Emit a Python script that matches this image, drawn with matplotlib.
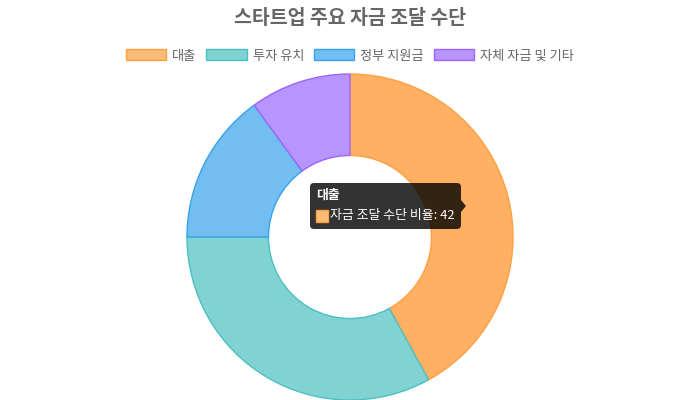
import matplotlib.pyplot as plt
from matplotlib.patches import Patch, FancyBboxPatch, Rectangle, Polygon

plt.rcParams['font.family'] = ['Noto Sans CJK KR', 'DejaVu Sans']

# data
labels = ["대출", "투자 유치", "정부 지원금", "자체 자금 및 기타"]
values = [42, 33, 15, 10]
series_name = "자금 조달 수단 비율"
title = "스타트업 주요 자금 조달 수단"

fills = ["#ffb062", "#81d3d3", "#72bef1", "#b894ff"]
legend_fills = ["#ffbc79", "#81d3d3", "#72bef1", "#b894ff"]
edges = ["#ff9f40", "#4bc0c0", "#36a2eb", "#9966ff"]

fig = plt.figure(figsize=(7, 4), dpi=100)
ax = fig.add_axes([0, 0, 1, 1])

# doughnut, pixel coords (y up)
cx, cy = 350, 400 - 237
R = 163
wedges, _ = ax.pie(values, colors=fills, startangle=90, counterclock=False,
                   radius=R, center=(cx, cy),
                   wedgeprops=dict(width=R * 0.5, linewidth=1))
for w, ec in zip(wedges, edges):
    w.set_edgecolor(ec)

ax.set_xlim(0, 700)
ax.set_ylim(0, 400)
ax.set_aspect('equal')
ax.axis('off')

# title
ax.text(350, 400 - 18, title, ha='center', va='center', fontsize=14,
        fontweight='bold', color='#666666')

# legend
handles = [Patch(facecolor=f, edgecolor=e, linewidth=1)
           for f, e in zip(legend_fills, edges)]
leg = ax.legend(handles, labels, loc='center', bbox_to_anchor=(350, 400 - 56),
                bbox_transform=ax.transData, ncol=4, frameon=False,
                fontsize=9.5, handlelength=3.05, handleheight=0.9,
                handletextpad=0.45, columnspacing=0.75, borderpad=0)
for t in leg.get_texts():
    t.set_color('#666666')

# tooltip for the hovered slice
tx0, ty0, tx1, ty1 = 310, 400 - 229, 461, 400 - 183
ax.add_patch(FancyBboxPatch((tx0 + 4, ty0 + 4), tx1 - tx0 - 8, ty1 - ty0 - 8,
                            boxstyle="round,pad=4", facecolor=(0, 0, 0, 0.8),
                            edgecolor='none', zorder=5))
ax.add_patch(Polygon([(tx1, 400 - 200), (tx1 + 5, 400 - 206), (tx1, 400 - 212)],
                     closed=True, facecolor=(0, 0, 0, 0.8), edgecolor='none',
                     zorder=5))
ax.text(316, 400 - 195, labels[0], ha='left', va='center', fontsize=9.3,
        fontweight='bold', color='white', zorder=6)
ax.add_patch(Rectangle((316, 400 - 222), 12, 12, facecolor=legend_fills[0],
                       edgecolor=edges[0], linewidth=1, zorder=6))
ax.text(330, 400 - 216, f"{series_name}: {values[0]}", ha='left', va='center',
        fontsize=9.3, color='white', zorder=6)

fig.savefig("out.png", dpi=100)
